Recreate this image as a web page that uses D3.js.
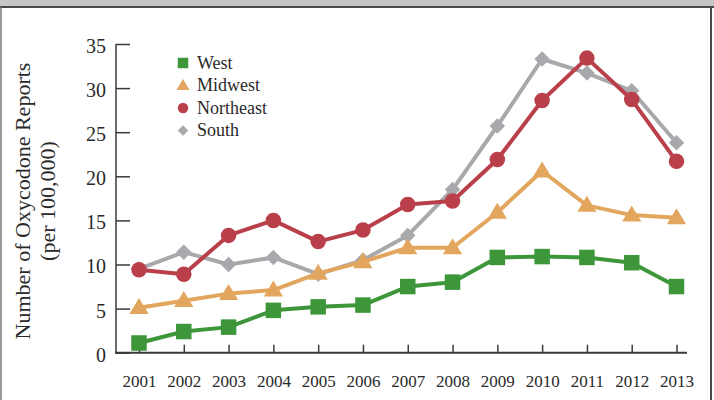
<!DOCTYPE html>
<html>
<head>
<meta charset="utf-8">
<script src="https://cdn.jsdelivr.net/npm/d3@7"></script>
<style>
  body { margin: 0; background: #fff; }
  svg { display: block; font-family: "Liberation Serif", "Times New Roman", serif; }
</style>
</head>
<body>
<svg width="714" height="400"></svg>
<script>
// Data
var years = [2001, 2002, 2003, 2004, 2005, 2006, 2007, 2008, 2009, 2010, 2011, 2012, 2013];
var west      = [1.1, 2.4, 2.9, 4.8, 5.2, 5.4, 7.5, 8.0, 10.8, 10.9, 10.8, 10.2, 7.5];
var midwest   = [5.1, 5.9, 6.7, 7.1, 9.0, 10.3, 11.9, 11.9, 15.9, 20.6, 16.7, 15.6, 15.3];
var northeast = [9.4, 8.9, 13.3, 15.0, 12.6, 13.9, 16.8, 17.2, 21.9, 28.6, 33.4, 28.7, 21.7];
var south     = [9.5, 11.4, 10.0, 10.8, 8.9, 10.5, 13.3, 18.5, 25.7, 33.3, 31.7, 29.7, 23.8];
var yTicks = [0, 5, 10, 15, 20, 25, 30, 35];

var series = [
  {name: 'West', values: west, color: '#3d9639', shape: 'square'},
  {name: 'Midwest', values: midwest, color: '#e2a65e', shape: 'triangle'},
  {name: 'Northeast', values: northeast, color: '#b9404b', shape: 'circle'},
  {name: 'South', values: south, color: '#a8a9ac', shape: 'diamond'}
];
// South sits underneath the others
var drawOrder = [3, 0, 1, 2];

var svg = d3.select('svg');

// frame: grey band on top, dark borders
svg.append('rect').attr('x', 0).attr('y', 0).attr('width', 714).attr('height', 6).attr('fill', '#c6c6c6');
svg.append('line').attr('x1', 0).attr('x2', 714).attr('y1', 7).attr('y2', 7).attr('stroke', '#4a4a4a').attr('stroke-width', 2);
svg.append('line').attr('x1', 1).attr('x2', 1).attr('y1', 7).attr('y2', 400).attr('stroke', '#777').attr('stroke-width', 1.5);
svg.append('line').attr('x1', 711).attr('x2', 711).attr('y1', 7).attr('y2', 400).attr('stroke', '#4a4a4a').attr('stroke-width', 2);

var x = d3.scaleLinear().domain([2001, 2013]).range([139, 676.5]);
var y = d3.scaleLinear().domain([0, 35]).range([352.7, 44]);
var axisColor = '#3a3a3a';

// y axis, ticks pointing inward
var yAxis = d3.axisLeft(y).tickValues(yTicks).tickSizeInner(-14).tickSizeOuter(0).tickPadding(10);
var gy = svg.append('g').attr('transform', 'translate(116,0)').call(yAxis)
  .attr('font-family', null).attr('font-size', 20);
gy.select('.domain').remove();
gy.selectAll('line').attr('stroke', axisColor).attr('stroke-width', 1.5);
gy.selectAll('text').attr('fill', '#2a2a2a').attr('dy', '0.42em');
svg.append('line').attr('x1', 116).attr('x2', 116).attr('y1', y(35)).attr('y2', y(0))
  .attr('stroke', axisColor).attr('stroke-width', 1.5);

// x axis
var xAxis = d3.axisBottom(x).tickValues(years).tickFormat(d3.format('d')).tickSizeInner(-8).tickSizeOuter(0).tickPadding(22);
var gx = svg.append('g').attr('transform', 'translate(0,' + y(0) + ')').call(xAxis)
  .attr('font-family', null).attr('font-size', 17);
gx.select('.domain').remove();
gx.selectAll('line').attr('stroke', axisColor).attr('stroke-width', 1.5);
gx.selectAll('text').attr('fill', '#2a2a2a');
svg.append('line').attr('x1', 115).attr('x2', 687).attr('y1', y(0)).attr('y2', y(0))
  .attr('stroke', axisColor).attr('stroke-width', 2);

// axis title
var title = svg.append('text')
  .attr('transform', 'translate(30,201) rotate(-90)')
  .attr('text-anchor', 'middle')
  .attr('font-size', 22)
  .attr('fill', '#2a2a2a');
title.append('tspan').attr('x', 0).attr('dy', 0).text('Number of Oxycodone Reports');
title.append('tspan').attr('x', 0).attr('dy', 25).text('(per 100,000)');

function marker(sel, shape, size, color) {
  if (shape === 'square') {
    sel.append('rect').attr('x', -size / 2).attr('y', -size / 2).attr('width', size).attr('height', size).attr('fill', color);
  } else if (shape === 'circle') {
    sel.append('circle').attr('r', size / 2).attr('fill', color);
  } else if (shape === 'triangle') {
    var w = size * 1.2, h = size * 1.0;
    sel.append('path').attr('d', 'M0,' + (-h * 0.6) + 'L' + (w / 2) + ',' + (h * 0.4) + 'L' + (-w / 2) + ',' + (h * 0.4) + 'Z').attr('fill', color);
  } else {
    var r = size / 2;
    sel.append('path').attr('d', 'M0,' + (-r) + 'L' + r + ',0L0,' + r + 'L' + (-r) + ',0Z').attr('fill', color);
  }
}

var line = d3.line().x(function (d, i) { return x(years[i]); }).y(function (d) { return y(d); });

drawOrder.forEach(function (k) {
  var s = series[k];
  var g = svg.append('g');
  g.append('path').datum(s.values)
    .attr('fill', 'none').attr('stroke', s.color).attr('stroke-width', 4)
    .attr('stroke-linejoin', 'round')
    .attr('d', line);
  g.selectAll('.pt').data(s.values).enter().append('g')
    .attr('transform', function (d, i) { return 'translate(' + x(years[i]) + ',' + y(d) + ')'; })
    .each(function () {
      marker(d3.select(this), s.shape, s.shape === 'triangle' ? 16 : 15.5, s.color);
    });
});

// legend
var legend = svg.append('g').attr('transform', 'translate(183,63)');
series.forEach(function (s, i) {
  var row = legend.append('g').attr('transform', 'translate(0,' + (i * 22.5) + ')');
  marker(row, s.shape, s.shape === 'triangle' ? 11 : 10.5, s.color);
  row.append('text').attr('x', 14).attr('y', 0).attr('dy', '0.32em')
    .attr('font-size', 18).attr('fill', '#2a2a2a').text(s.name);
});
</script>
</body>
</html>
